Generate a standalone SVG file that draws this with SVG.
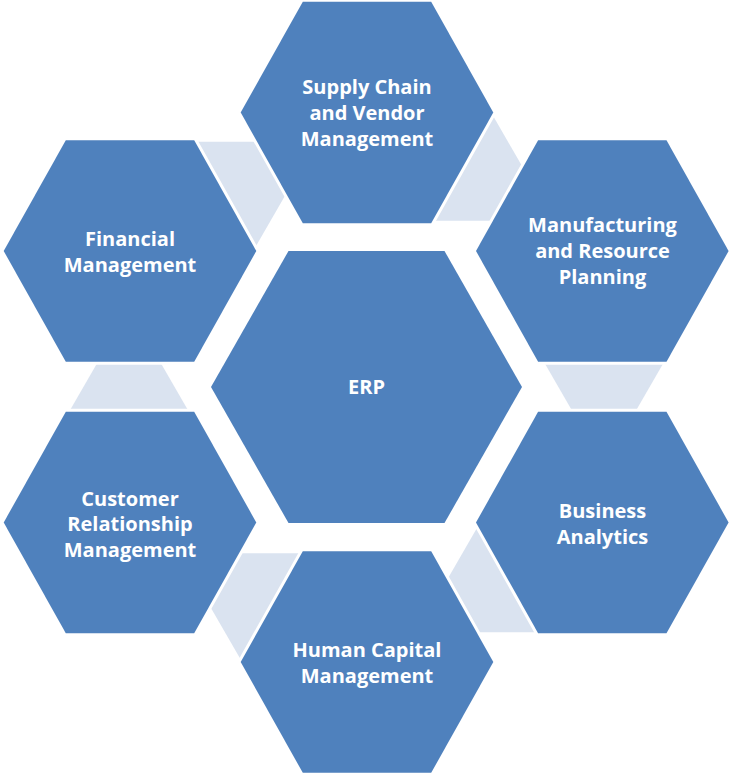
<svg xmlns="http://www.w3.org/2000/svg" xmlns:xlink="http://www.w3.org/1999/xlink" width="732" height="776" viewBox="0 0 732 776">
  <style>
    .hex { fill: #4F81BD; stroke: #FFFFFF; stroke-width: 6; paint-order: stroke fill; stroke-linejoin: miter; }
    .link { fill: #DAE3F0; stroke: none; }
    .lbl { font-family: "Open Sans", "Liberation Sans", sans-serif; font-weight: bold; font-size: 20px; fill: #FFFFFF; text-anchor: middle; }
  </style>
  <defs>
    <polygon id="hexOuter" points="-126.3,0 -64.2,-110.8 64.2,-110.8 126.3,0 64.2,110.8 -64.2,110.8"/>
    <polygon id="hexCenter" points="-155.5,0 -78,-136 78,-136 155.5,0 78,136 -78,136"/>
    <polygon id="tri" points="129,308 44,455.2 214,455.2"/>
  </defs>
  <rect width="732" height="776" fill="#FFFFFF"/>
  <g id="connectors">
    <use xlink:href="#tri" class="link"/>
    <use xlink:href="#tri" class="link" transform="rotate(60 366.5 387)"/>
    <use xlink:href="#tri" class="link" transform="rotate(120 366.5 387)"/>
    <use xlink:href="#tri" class="link" transform="rotate(180 366.5 387)"/>
    <use xlink:href="#tri" class="link" transform="rotate(240 366.5 387)"/>
    <use xlink:href="#tri" class="link" transform="rotate(300 366.5 387)"/>
  </g>
  <g id="node-erp">
    <use xlink:href="#hexCenter" class="hex" x="366.5" y="387"/>
    <text class="lbl" x="366.5" y="394.3">ERP</text>
  </g>
  <g id="node-supply">
    <use xlink:href="#hexOuter" class="hex" x="367" y="112.5"/>
    <text class="lbl" x="367" y="94.3">Supply Chain</text>
    <text class="lbl" x="367" y="120">and Vendor</text>
    <text class="lbl" x="367" y="145.7">Management</text>
  </g>
  <g id="node-financial">
    <use xlink:href="#hexOuter" class="hex" x="130" y="251"/>
    <text class="lbl" x="130" y="245.7">Financial</text>
    <text class="lbl" x="130" y="271.7">Management</text>
  </g>
  <g id="node-manufacturing">
    <use xlink:href="#hexOuter" class="hex" x="602.3" y="251"/>
    <text class="lbl" x="602.5" y="232.3">Manufacturing</text>
    <text class="lbl" x="602.5" y="258.3">and Resource</text>
    <text class="lbl" x="602.5" y="284">Planning</text>
  </g>
  <g id="node-customer">
    <use xlink:href="#hexOuter" class="hex" x="130" y="522.5"/>
    <text class="lbl" x="130" y="505.5">Customer</text>
    <text class="lbl" x="130" y="531">Relationship</text>
    <text class="lbl" x="130" y="556.7">Management</text>
  </g>
  <g id="node-business">
    <use xlink:href="#hexOuter" class="hex" x="602.3" y="522.5"/>
    <text class="lbl" x="602.5" y="518">Business</text>
    <text class="lbl" x="602.5" y="543.5">Analytics</text>
  </g>
  <g id="node-human">
    <use xlink:href="#hexOuter" class="hex" x="367" y="662"/>
    <text class="lbl" x="367" y="656.7">Human Capital</text>
    <text class="lbl" x="367" y="682.7">Management</text>
  </g>
</svg>
